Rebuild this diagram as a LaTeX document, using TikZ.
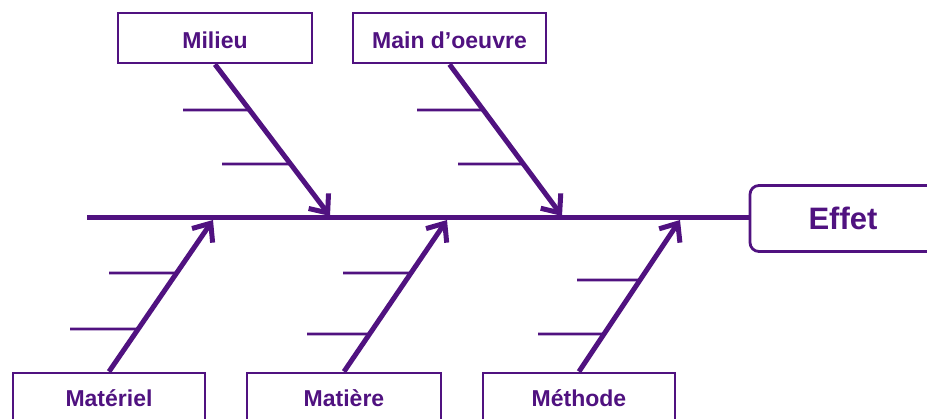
\documentclass[tikz,border=0pt]{standalone}
\usepackage{fontspec}
\setmainfont{Liberation Sans}
\usetikzlibrary{arrows.meta,calc}
\definecolor{fishc}{RGB}{80,18,128}
\newcommand{\lowtxt}[1]{\raisebox{-2pt}[\height][\depth]{#1}}
\tikzset{
  catbox/.style={draw=fishc, line width=2.8pt, fill=white, minimum width=192pt, minimum height=50pt, inner sep=0pt, text=fishc, font=\fontsize{23}{27}\selectfont\bfseries},
  effbox/.style={draw=fishc, line width=2.8pt, fill=white, rounded corners=9pt, minimum width=186pt, minimum height=66pt, inner sep=0pt, text=fishc, font=\fontsize{31}{35}\selectfont\bfseries},
  spine/.style={draw=fishc, line width=5pt},
  bone/.style={draw=fishc, line width=5pt, -{Straight Barb[length=15pt,width=25pt,line width=5pt]}},
  tick/.style={draw=fishc, line width=2.6pt}
}
\begin{document}
\begin{tikzpicture}[x=1pt,y=-1pt]
\useasboundingbox (0,0) rectangle (927,419);
\clip (0,0) rectangle (927,419);
% effect box and spine
\node[effbox] (effet) at (843,218.5) {Effet};
\coordinate (s0) at (87,218);
\draw[spine] (s0) -- (effet.west |- s0);
% category boxes
\node[catbox, minimum width=194pt] (milieu) at (215,38) {\lowtxt{Milieu}};
\node[catbox, minimum width=193pt] (main) at (449.5,38) {\lowtxt{Main d’oeuvre}};
\node[catbox] (materiel) at (109,398) {Matériel};
\node[catbox, minimum width=194pt] (matiere) at (344,398) {Matière};
\node[catbox] (methode) at (579,398) {Méthode};
% arrow tips on spine
\coordinate (t1) at (330,216);
\coordinate (t2) at (562,216);
\coordinate (t3) at (213,220);
\coordinate (t4) at (447,220);
\coordinate (t5) at (680,220);
% bones
\draw[bone] (milieu.south) -- (t1);
\draw[bone] (main.south) -- (t2);
\draw[bone] (materiel.north) -- (t3);
\draw[bone] (matiere.north) -- (t4);
\draw[bone] (methode.north) -- (t5);
% sub-cause ticks: start points and helper points to the right
\coordinate (a1) at (183,110); \coordinate (a1r) at (184,110);
\coordinate (a2) at (222,164); \coordinate (a2r) at (223,164);
\coordinate (b1) at (417,110); \coordinate (b1r) at (418,110);
\coordinate (b2) at (458,164); \coordinate (b2r) at (459,164);
\coordinate (c1) at (109,273); \coordinate (c1r) at (110,273);
\coordinate (c2) at (70,329);  \coordinate (c2r) at (71,329);
\coordinate (d1) at (343,273); \coordinate (d1r) at (344,273);
\coordinate (d2) at (307,334); \coordinate (d2r) at (308,334);
\coordinate (e1) at (577,280); \coordinate (e1r) at (578,280);
\coordinate (e2) at (538,334); \coordinate (e2r) at (539,334);
\draw[tick] (a1) -- (intersection of a1--a1r and milieu.south--t1);
\draw[tick] (a2) -- (intersection of a2--a2r and milieu.south--t1);
\draw[tick] (b1) -- (intersection of b1--b1r and main.south--t2);
\draw[tick] (b2) -- (intersection of b2--b2r and main.south--t2);
\draw[tick] (c1) -- (intersection of c1--c1r and materiel.north--t3);
\draw[tick] (c2) -- (intersection of c2--c2r and materiel.north--t3);
\draw[tick] (d1) -- (intersection of d1--d1r and matiere.north--t4);
\draw[tick] (d2) -- (intersection of d2--d2r and matiere.north--t4);
\draw[tick] (e1) -- (intersection of e1--e1r and methode.north--t5);
\draw[tick] (e2) -- (intersection of e2--e2r and methode.north--t5);
\end{tikzpicture}
\end{document}
